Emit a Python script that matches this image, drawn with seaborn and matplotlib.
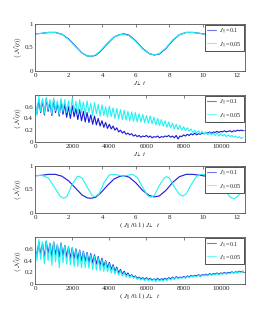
import numpy as np
import pandas as pd
import matplotlib
matplotlib.use("Agg")
import matplotlib.pyplot as plt
import seaborn as sns

sns.set_style("white")
plt.rcParams['font.family'] = ['Liberation Serif', 'DejaVu Serif']
plt.rcParams['mathtext.fontset'] = 'stix'

# ---------------- data ----------------
# short-time panels (x in J_perp t, or rescaled)
t_short = [0, 0.4, 0.8, 1.2, 1.6, 2.0, 2.4, 2.8, 3.1, 3.3, 3.6, 3.9, 4.3, 4.7, 5.0,
           5.3, 5.6, 6.0, 6.4, 6.8, 7.1, 7.4, 7.8, 8.2, 8.6, 9.0, 9.4, 9.8, 10.2,
           10.6, 11.0, 11.4, 11.8, 12.2, 12.5]
n_short_01 = [0.79, 0.80, 0.82, 0.82, 0.78, 0.68, 0.53, 0.38, 0.32, 0.31, 0.33, 0.42,
              0.58, 0.72, 0.77, 0.79, 0.76, 0.64, 0.48, 0.37, 0.34, 0.36, 0.48, 0.65,
              0.77, 0.82, 0.82, 0.80, 0.78, 0.78, 0.78, 0.77, 0.73, 0.65, 0.57]
n_short_005 = [0.79, 0.80, 0.82, 0.82, 0.78, 0.67, 0.52, 0.38, 0.32, 0.31, 0.34, 0.43,
               0.59, 0.72, 0.77, 0.78, 0.75, 0.63, 0.47, 0.37, 0.34, 0.37, 0.49, 0.66,
               0.77, 0.82, 0.82, 0.80, 0.78, 0.78, 0.78, 0.76, 0.72, 0.64, 0.56]

t_scaled_005 = [0, 0.4, 0.8, 1.2, 1.5, 1.7, 1.9, 2.2, 2.5, 2.6, 2.8, 3.1, 3.4, 3.55,
                3.8, 4.1, 4.4, 4.6, 4.9, 5.2, 5.5, 5.8, 6.1, 6.4, 6.7, 6.9, 7.1, 7.4,
                7.7, 7.85, 8.0, 8.3, 8.6, 8.8, 9.0, 9.3, 9.6, 9.9, 10.2, 10.6, 11.0,
                11.3, 11.6, 11.85, 12.1, 12.5]
n_scaled_005 = [0.79, 0.80, 0.74, 0.52, 0.35, 0.31, 0.35, 0.60, 0.77, 0.78, 0.74, 0.55,
                0.37, 0.34, 0.40, 0.64, 0.80, 0.82, 0.81, 0.78, 0.80, 0.82, 0.75, 0.55,
                0.37, 0.33, 0.37, 0.58, 0.75, 0.77, 0.74, 0.55, 0.39, 0.36, 0.40, 0.60,
                0.77, 0.82, 0.81, 0.78, 0.70, 0.50, 0.34, 0.30, 0.36, 0.60]

# long-time panels, sampled every 100 time units from 0 to 11200
t_long = np.arange(0, 11300, 100)
n_long_01 = [0.62,0.48,0.72,0.50,0.70,0.46,0.73,0.52,0.68,0.45,0.72,0.50,0.66,0.44,0.70,0.47,
             0.64,0.42,0.60,0.40,0.62,0.43,0.57,0.38,0.55,0.36,
             0.52,0.34,0.50,0.33,0.46,0.30,0.44,0.29,0.40,0.27,
             0.36,0.25,0.33,0.23,0.30,0.22,0.27,0.20,0.24,0.17,
             0.20,0.15,0.18,0.13,0.15,0.12,0.14,0.10,0.12,0.09,
             0.11,0.08,0.10,0.09,0.11,0.08,0.10,0.07,0.09,0.08,0.10,0.07,0.09,0.08,0.10,0.09,0.11,0.08,0.10,0.07,0.11,0.05,0.10,0.09,0.12,
             0.10,0.13,0.11,0.14,0.12,0.15,0.12,0.14,0.13,0.15,
             0.14,0.16,0.15,0.17,0.15,0.17,0.16,0.18,0.16,0.18,0.17,0.19,0.17,0.18,0.19,0.17,0.19,0.18,0.20,0.19,0.20,0.19]
n_long_005 = [0.72,0.45,0.78,0.52,0.74,0.48,0.76,0.55,0.72,0.47,0.75,0.53,0.70,0.46,0.74,0.52,
              0.72,0.50,0.70,0.48,0.74,0.52,0.69,0.47,0.72,0.50,
              0.68,0.47,0.70,0.50,0.66,0.45,0.67,0.48,0.64,0.44,
              0.63,0.45,0.60,0.42,0.61,0.43,0.58,0.40,0.57,0.39,
              0.55,0.38,0.54,0.37,0.52,0.36,0.51,0.35,0.50,0.34,
              0.48,0.34,0.47,0.33,0.45,0.32,0.44,0.31,0.42,0.29,0.40,0.28,0.38,0.27,0.36,0.25,0.34,0.24,0.32,0.22,0.30,0.21,0.28,0.20,0.26,
              0.19,0.24,0.18,0.22,0.16,0.20,0.15,0.19,0.14,0.18,
              0.13,0.17,0.12,0.16,0.12,0.15,0.11,0.15,0.10,0.14,0.10,0.13,0.09,0.12,0.09,0.11,0.08,0.10,0.07,0.09,0.06,0.08]
n_resc_01 = [0.60,0.47,0.72,0.50,0.70,0.45,0.73,0.52,0.69,0.47,0.72,0.50,0.67,0.46,0.70,0.48,
             0.66,0.46,0.64,0.44,0.62,0.43,0.60,0.42,0.58,0.40,
             0.56,0.39,0.54,0.37,0.52,0.36,0.50,0.34,0.47,0.32,
             0.44,0.30,0.40,0.28,0.37,0.25,0.33,0.22,0.29,0.19,
             0.25,0.17,0.22,0.15,0.19,0.13,0.16,0.12,0.14,0.10,
             0.12,0.09,0.11,0.08,0.11,0.08,0.10,0.07,0.09,0.07,0.10,0.07,0.09,0.08,0.10,0.08,0.11,0.09,0.12,0.09,0.13,0.10,0.12,0.11,0.13,
             0.11,0.14,0.12,0.15,0.13,0.15,0.14,0.16,0.14,0.16,
             0.15,0.17,0.15,0.18,0.16,0.18,0.17,0.19,0.17,0.19,0.18,0.20,0.18,0.20,0.19,0.21,0.19,0.21,0.20,0.22,0.21,0.22]
n_resc_005 = [0.70,0.40,0.76,0.42,0.72,0.35,0.74,0.40,0.70,0.32,0.73,0.38,0.68,0.28,0.70,0.36,
              0.66,0.34,0.64,0.33,0.62,0.30,0.59,0.30,0.57,0.28,
              0.55,0.28,0.53,0.27,0.50,0.25,0.48,0.24,0.45,0.23,
              0.42,0.22,0.39,0.21,0.35,0.19,0.31,0.17,0.27,0.15,
              0.23,0.14,0.20,0.12,0.17,0.11,0.15,0.10,0.13,0.08,
              0.11,0.07,0.10,0.06,0.10,0.06,0.09,0.05,0.09,0.04,0.09,0.05,0.08,0.05,0.09,0.06,0.10,0.07,0.11,0.08,0.12,0.09,0.11,0.10,0.12,
              0.10,0.13,0.11,0.14,0.12,0.14,0.13,0.15,0.13,0.15,
              0.14,0.16,0.14,0.17,0.15,0.17,0.16,0.18,0.16,0.18,0.17,0.19,0.17,0.19,0.18,0.20,0.19,0.20,0.19,0.21,0.20,0.22]

labels = [r'$J_{\parallel}$=0.1', r'$J_{\parallel}$=0.05']
ylabel = r'$\langle\ \mathcal{N}(t)\rangle$'
xlabels = [r'$J_{\perp}\ t$', r'$J_{\perp}\ t$',
           r'$(\ J_{\parallel}/0.1)\ J_{\perp}\ \ t$', r'$(\ J_{\parallel}/0.1)\ J_{\perp}\ \ t$']

# ---------------- plotting ----------------
BLUE = '#1818d8'
CYAN = '#22f2f2'
FS = 5

fig = plt.figure(figsize=(2.7, 3.24), dpi=100)
rects = [(0.130, 0.781, 0.777, 0.145),
         (0.130, 0.562, 0.777, 0.145),
         (0.130, 0.343, 0.777, 0.145),
         (0.130, 0.123, 0.777, 0.145)]

panels = [
    (t_short, n_short_01, t_short, n_short_005, (0, 12.5), (0, 1), [0, 2, 4, 6, 8, 10, 12], [0, 0.5, 1]),
    (t_long, n_long_01, t_long, n_long_005, (0, 11300), (0, 0.8), [0, 2000, 4000, 6000, 8000, 10000], [0, 0.2, 0.4, 0.6]),
    (t_short, n_short_01, t_scaled_005, n_scaled_005, (0, 12.5), (0, 1), [0, 2, 4, 6, 8, 10, 12], [0, 0.5, 1]),
    (t_long, n_resc_01, t_long, n_resc_005, (0, 11300), (0, 0.8), [0, 2000, 4000, 6000, 8000, 10000], [0, 0.2, 0.4, 0.6]),
]

for i, (r, p) in enumerate(zip(rects, panels)):
    x1, y1, x2, y2, xl, yl, xt, yt = p
    ax = fig.add_axes(r)
    sns.lineplot(x=np.asarray(x1), y=np.asarray(y1), ax=ax, color=BLUE, lw=0.8, label=labels[0])
    sns.lineplot(x=np.asarray(x2), y=np.asarray(y2), ax=ax, color=CYAN, lw=0.8, label=labels[1])
    ax.set_xlim(*xl)
    ax.set_ylim(*yl)
    ax.set_xticks(xt)
    ax.set_yticks(yt)
    ax.set_xticklabels([f'{v:g}' for v in xt])
    ax.set_yticklabels([f'{v:g}' for v in yt])
    ax.tick_params(direction='in', length=2, width=0.4, labelsize=FS, pad=1.5,
                   top=True, right=True, colors='#222222')
    for s in ax.spines.values():
        s.set_color('#555555')
        s.set_linewidth(0.6)
    ax.set_xlabel(xlabels[i], fontsize=FS, labelpad=0.5)
    ax.set_ylabel(ylabel, fontsize=FS, labelpad=1)
    leg = ax.legend(loc='upper right', fontsize=4.5, frameon=True, fancybox=False,
                    edgecolor='#333333', borderaxespad=0.1, handlelength=1.5,
                    handletextpad=0.5, borderpad=0.35, labelspacing=0.8)
    leg.get_frame().set_linewidth(0.6)
    leg.get_frame().set_alpha(1)
    for h in leg.get_lines():
        h.set_alpha(0.6)

fig.savefig('out.png', dpi=100)
